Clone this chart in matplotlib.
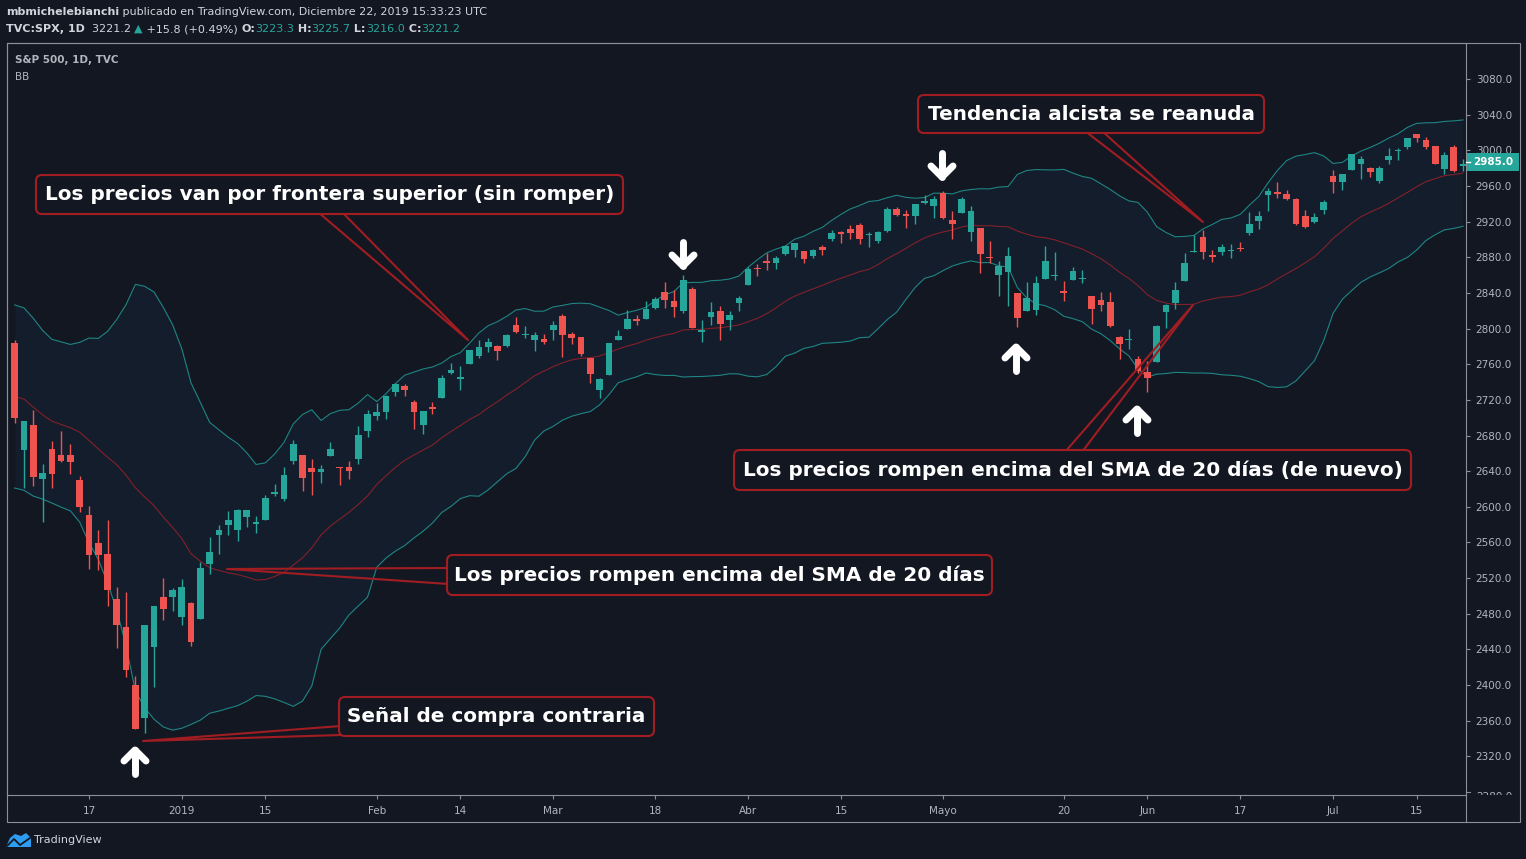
import numpy as np
import pandas as pd
import matplotlib
matplotlib.use("Agg")
import matplotlib.pyplot as plt
from matplotlib.patches import FancyBboxPatch, Rectangle, Polygon
from matplotlib.lines import Line2D
from matplotlib.transforms import IdentityTransform, Bbox

W, H = 1526, 859
BG = "#131722"
UP = "#26a69a"
DOWN = "#ef5350"
TXT = "#d1d4dc"
AX_TXT = "#b2b5be"
FRAME = "#8c8f98"
BAND = "#1f8583"
BASIS = "#84202a"
CALLOUT = "#a11d22"

# closes before the visible range, only used to warm up the 20-day bands
pre_close = [2738.31, 2755.45, 2813.89, 2806.83, 2781.01, 2726.22, 2722.18, 2701.58,
             2730.20, 2736.27, 2690.73, 2641.89, 2649.93, 2632.56, 2673.45, 2682.17,
             2743.79, 2737.80, 2760.17, 2790.37]

# S&P 500 daily candles, 4 Dec 2018 .. 22 Jul 2019
opens = [2784.0, 2663.51, 2691.26, 2630.86, 2664.44, 2658.23, 2658.70, 2629.68, 2590.75, 2559.90,
         2547.05, 2496.77, 2465.38, 2400.56, 2363.12, 2442.50, 2498.77, 2498.94, 2476.96, 2491.92,
         2474.33, 2535.61, 2568.11, 2580.00, 2573.51, 2588.11, 2580.31, 2585.10, 2614.75, 2609.28,
         2651.27, 2657.88, 2643.48, 2638.84, 2657.44, 2644.97, 2644.89, 2653.62, 2685.49, 2702.32,
         2706.49, 2728.34, 2735.05, 2717.53, 2692.36, 2712.40, 2722.61, 2750.30, 2743.50, 2760.24,
         2769.28, 2779.05, 2780.67, 2780.67, 2804.35, 2792.36, 2787.50, 2788.11, 2798.22, 2814.37,
         2794.41, 2790.27, 2766.53, 2730.79, 2747.61, 2787.34, 2799.78, 2810.38, 2810.79, 2822.61,
         2840.76, 2831.34, 2819.72, 2844.52, 2796.01, 2812.66, 2819.72, 2809.40, 2828.27, 2848.63,
         2868.24, 2876.09, 2873.99, 2884.16, 2888.46, 2886.58, 2881.37, 2891.92, 2900.86, 2908.32,
         2912.26, 2916.04, 2904.81, 2898.78, 2909.99, 2934.00, 2928.99, 2925.81, 2940.58, 2937.14,
         2952.33, 2922.16, 2929.21, 2908.89, 2913.03, 2879.61, 2859.84, 2863.10, 2840.19, 2820.12,
         2820.38, 2855.80, 2858.60, 2841.94, 2854.02, 2856.06, 2836.70, 2832.41, 2830.03, 2790.25,
         2786.94, 2766.15, 2751.53, 2762.64, 2818.09, 2828.51, 2852.87, 2885.83, 2903.27, 2882.73,
         2886.24, 2886.82, 2889.75, 2906.71, 2920.55, 2949.60, 2952.71, 2951.42, 2945.78, 2926.07,
         2919.66, 2932.94, 2971.41, 2964.66, 2978.08, 2984.25, 2979.77, 2965.52, 2989.30, 2999.62,
         3003.36, 3017.80, 3012.13, 3005.10, 2978.87, 3004.26, 2981.93]
highs = [2787.0, 2696.19, 2708.54, 2647.51, 2674.35, 2685.44, 2670.19, 2635.07, 2601.13, 2573.99,
         2585.29, 2509.63, 2504.41, 2410.34, 2467.76, 2489.10, 2520.27, 2509.24, 2519.49, 2493.14,
         2538.07, 2566.16, 2579.82, 2595.32, 2597.82, 2596.27, 2589.32, 2613.08, 2625.76, 2645.06,
         2675.47, 2657.88, 2653.19, 2647.20, 2672.38, 2644.97, 2650.93, 2690.44, 2708.95, 2716.66,
         2724.99, 2738.98, 2738.08, 2719.32, 2708.07, 2718.05, 2748.19, 2761.85, 2757.90, 2775.66,
         2787.33, 2789.88, 2781.58, 2794.20, 2813.49, 2803.12, 2795.76, 2793.73, 2808.02, 2816.88,
         2796.44, 2790.27, 2767.25, 2744.13, 2784.00, 2798.32, 2821.24, 2815.00, 2830.73, 2835.41,
         2852.42, 2843.54, 2860.31, 2846.16, 2809.79, 2829.87, 2825.56, 2819.71, 2836.03, 2869.40,
         2872.90, 2885.25, 2881.28, 2893.24, 2895.95, 2886.88, 2889.71, 2893.42, 2910.54, 2909.60,
         2916.06, 2918.00, 2908.40, 2909.51, 2936.31, 2936.83, 2933.10, 2939.88, 2949.52, 2948.22,
         2954.13, 2931.68, 2947.85, 2937.32, 2913.03, 2897.96, 2875.97, 2891.31, 2840.19, 2852.54,
         2858.68, 2892.15, 2885.48, 2853.86, 2868.88, 2865.47, 2836.70, 2841.36, 2840.51, 2792.03,
         2799.00, 2768.98, 2763.07, 2804.49, 2827.28, 2852.10, 2884.97, 2904.77, 2910.61, 2888.57,
         2895.24, 2894.45, 2897.27, 2930.79, 2931.74, 2958.06, 2964.15, 2954.92, 2946.52, 2932.59,
         2929.30, 2943.98, 2977.93, 2973.21, 2995.84, 2994.03, 2980.76, 2981.90, 3002.98, 3002.33,
         3013.92, 3017.80, 3015.02, 3005.26, 2998.28, 3006.02, 2990.71]
lows = [2693.6, 2621.53, 2623.14, 2583.23, 2621.30, 2650.26, 2637.27, 2593.84, 2530.54, 2528.71,
        2488.96, 2441.18, 2408.55, 2351.10, 2346.58, 2397.94, 2472.89, 2482.82, 2467.47, 2443.96,
        2474.33, 2524.56, 2547.56, 2568.89, 2562.02, 2577.40, 2570.41, 2585.10, 2612.68, 2606.36,
        2647.58, 2617.27, 2612.86, 2627.01, 2657.33, 2624.06, 2631.05, 2648.34, 2678.65, 2696.88,
        2698.75, 2724.03, 2724.15, 2687.26, 2681.83, 2703.79, 2722.61, 2748.63, 2731.23, 2760.24,
        2767.29, 2774.06, 2764.55, 2779.11, 2794.99, 2789.47, 2775.13, 2782.51, 2787.38, 2767.66,
        2782.97, 2768.69, 2739.09, 2722.27, 2747.61, 2786.73, 2799.78, 2803.46, 2810.79, 2821.99,
        2823.27, 2812.43, 2817.38, 2800.47, 2785.02, 2803.99, 2787.72, 2798.77, 2819.23, 2848.63,
        2858.75, 2865.17, 2867.14, 2882.99, 2880.78, 2873.33, 2879.13, 2881.99, 2898.37, 2896.48,
        2900.71, 2895.45, 2891.90, 2896.35, 2908.53, 2926.05, 2912.84, 2917.56, 2939.35, 2924.11,
        2923.36, 2900.50, 2929.21, 2898.21, 2862.60, 2873.28, 2836.40, 2825.39, 2801.43, 2820.12,
        2815.08, 2855.80, 2854.23, 2831.29, 2854.02, 2851.11, 2805.49, 2820.19, 2801.58, 2766.06,
        2776.74, 2750.52, 2728.81, 2762.64, 2800.92, 2822.45, 2852.87, 2885.51, 2878.53, 2874.68,
        2881.99, 2879.62, 2887.30, 2905.44, 2911.43, 2931.50, 2946.87, 2944.05, 2916.01, 2912.99,
        2918.57, 2929.05, 2952.22, 2955.92, 2977.96, 2967.97, 2970.09, 2963.44, 2984.62, 2988.80,
        3001.87, 3008.77, 3001.15, 2984.25, 2973.09, 2975.86, 2976.65]
closes = [2700.06, 2695.95, 2633.08, 2637.72, 2636.78, 2651.07, 2650.54, 2599.95, 2545.94, 2546.16,
          2506.96, 2467.42, 2416.62, 2351.10, 2467.70, 2488.83, 2485.74, 2506.85, 2510.03, 2447.89,
          2531.94, 2549.69, 2574.41, 2584.96, 2596.64, 2596.26, 2582.61, 2610.30, 2616.10, 2635.96,
          2670.71, 2632.90, 2638.70, 2642.33, 2664.76, 2643.85, 2640.00, 2681.05, 2704.10, 2706.53,
          2724.87, 2737.70, 2731.61, 2706.05, 2707.88, 2709.80, 2744.73, 2753.03, 2745.73, 2775.60,
          2779.76, 2784.70, 2774.88, 2792.67, 2796.11, 2793.90, 2792.38, 2784.49, 2803.69, 2792.81,
          2789.65, 2771.45, 2748.93, 2743.07, 2783.30, 2791.52, 2810.92, 2808.48, 2822.48, 2832.94,
          2832.57, 2824.23, 2854.88, 2800.71, 2798.36, 2818.46, 2805.37, 2815.44, 2834.40, 2867.19,
          2867.24, 2873.40, 2879.39, 2892.74, 2895.77, 2878.20, 2888.21, 2888.32, 2907.41, 2905.58,
          2907.06, 2900.45, 2905.03, 2907.97, 2933.68, 2927.25, 2926.17, 2939.88, 2943.03, 2945.83,
          2923.73, 2917.52, 2945.64, 2932.47, 2884.05, 2879.42, 2870.72, 2881.40, 2811.87, 2834.41,
          2850.96, 2876.32, 2859.53, 2840.23, 2864.36, 2856.27, 2822.24, 2826.06, 2802.39, 2783.02,
          2788.86, 2752.06, 2744.45, 2803.27, 2826.15, 2843.49, 2873.34, 2886.73, 2885.72, 2879.84,
          2891.64, 2886.98, 2889.67, 2917.75, 2926.46, 2954.18, 2950.46, 2945.35, 2917.38, 2913.78,
          2924.92, 2941.76, 2964.33, 2973.01, 2995.82, 2990.41, 2975.95, 2979.63, 2993.07, 2999.91,
          3013.77, 3014.30, 3004.04, 2984.42, 2995.11, 2976.61, 2985.03]

holidays = ["2018-11-22", "2018-12-05", "2018-12-25", "2019-01-01", "2019-01-21",
            "2019-02-18", "2019-04-19", "2019-05-27", "2019-07-04"]
days = pd.bdate_range("2018-11-05", "2019-07-22")
days = days[~days.isin(pd.to_datetime(holidays))]
dates = days[len(pre_close):]

tick_dates = ["2018-12-17", "2019-01-02", "2019-01-15", "2019-02-01", "2019-02-14",
              "2019-03-01", "2019-03-18", "2019-04-01", "2019-04-15", "2019-05-01",
              "2019-05-20", "2019-06-03", "2019-06-17", "2019-07-01", "2019-07-15"]
tick_text = ["17", "2019", "15", "Feb", "14", "Mar", "18", "Abr", "15", "Mayo",
             "20", "Jun", "17", "Jul", "15"]
price_ticks = list(range(2320, 3081, 40))

# Bollinger bands 20, 2
cl = pd.Series(pre_close + closes)
mid = cl.rolling(20).mean()
sd = cl.rolling(20).std(ddof=0)
basis = mid.values[len(pre_close):]
upper = (mid + 2 * sd).values[len(pre_close):]
lower = (mid - 2 * sd).values[len(pre_close):]

fig = plt.figure(figsize=(W / 100, H / 100), dpi=100, facecolor=BG)
PX = IdentityTransform()


def fy(y):
    # top-origin pixel row -> display y
    return H - y


L, R, T, B = 7, 1466, 43, 795
ax = fig.add_axes([L / W, 1 - B / H, (R - L) / W, (B - T) / H])
ax.set_facecolor(BG)

x = np.arange(len(closes))
o, h, l, c = map(np.array, (opens, highs, lows, closes))
col = np.where(c >= o, UP, DOWN)

ax.fill_between(x, upper, lower, color="#2196f3", alpha=0.05, lw=0, zorder=1)
ax.plot(x, upper, color=BAND, lw=0.8, zorder=2)
ax.plot(x, lower, color=BAND, lw=0.8, zorder=2)
ax.plot(x, basis, color=BASIS, lw=0.8, zorder=2)

ax.vlines(x, l, h, colors=col, lw=1, zorder=3)
ax.bar(x, np.maximum(np.abs(c - o), 1.1), bottom=np.minimum(o, c), width=0.72,
       color=col, lw=0, zorder=4)

ax.set_xlim(-0.83, 156.32)
ax.set_ylim(2276.7, 3120.4)
ax.set_xticks([dates.get_loc(pd.Timestamp(d)) for d in tick_dates])
ax.set_xticklabels(tick_text)
ax.yaxis.tick_right()
ax.set_yticks(price_ticks)
ax.set_yticklabels([f"{v:.1f}" for v in price_ticks])
ax.tick_params(axis="both", colors=FRAME, labelcolor=AX_TXT, labelsize=7.5,
               length=3, width=0.8)
ax.tick_params(axis="x", pad=5)
ax.tick_params(axis="y", pad=4)
for s in ax.spines.values():
    s.set_color(FRAME)
    s.set_linewidth(0.8)

# 2280 label half hidden under the time scale
t = fig.text(1476 / W, 1 - 797 / H, "2280.0", color=AX_TXT, fontsize=7.5, va="center")
t.set_clip_on(True)
t.set_clip_box(Bbox([[0, fy(795)], [W, H]]))
fig.add_artist(Line2D([1466, 1470], [fy(792), fy(792)], color=FRAME, lw=0.8, transform=PX))

# outer frame and scale separators
fig.add_artist(Rectangle((6.5, fy(822)), 1513, 822 - 42.5, fill=False, ec=FRAME, lw=0.8,
                         transform=PX))
fig.add_artist(Line2D([1466, 1466], [fy(795), fy(822)], color=FRAME, lw=0.8, transform=PX))

# last price tag
fig.add_artist(Rectangle((1467, fy(171)), 52, 18, color=UP, lw=0, transform=PX, zorder=5))
fig.add_artist(Line2D([1466, 1470], [fy(162), fy(162)], color="white", lw=1, transform=PX,
                      zorder=6))
fig.text(1493 / W, 1 - 162 / H, "2985.0", color="white", fontsize=7.5, fontweight="bold",
         ha="center", va="center", zorder=6)

renderer = fig.canvas.get_renderer()


def run_text(x0, y, parts, size=8):
    for s, color, weight in parts:
        tx = fig.text(x0 / W, 1 - y / H, s, color=color, fontsize=size, fontweight=weight,
                      ha="left", va="center")
        x0 += tx.get_window_extent(renderer).width


run_text(6, 12, [("mbmichelebianchi", TXT, "bold"),
                 (" publicado en TradingView.com, Diciembre 22, 2019 15:33:23 UTC", TXT, "normal")])
run_text(6, 29, [("TVC:SPX, 1D", TXT, "bold"), ("  3221.2 ", TXT, "normal"), ("▲", UP, "normal"),
                 (" +15.8 (+0.49%) ", TXT, "normal"), ("O:", TXT, "bold"), ("3223.3", UP, "normal"),
                 (" H:", TXT, "bold"), ("3225.7", UP, "normal"), (" L:", TXT, "bold"),
                 ("3216.0", UP, "normal"), (" C:", TXT, "bold"), ("3221.2", UP, "normal")])
fig.text(15 / W, 1 - 60 / H, "S&P 500, 1D, TVC", color=AX_TXT, fontsize=7.5,
         fontweight="bold", va="center")
fig.text(15 / W, 1 - 77 / H, "BB", color=AX_TXT, fontsize=7.5, va="center")

# TradingView logo
fig.add_artist(Polygon([(6, fy(847)), (10, fy(838)), (15, fy(834)), (21, fy(836)),
                        (26, fy(833)), (31, fy(838)), (31, fy(847))],
                       closed=True, color="#2e9cf0", lw=0, transform=PX))
fig.add_artist(Line2D([7, 14, 20, 30], [fy(846), fy(839), fy(845), fy(838)],
                      color=BG, lw=1.3, transform=PX))
fig.text(34 / W, 1 - 840 / H, "TradingView", color=TXT, fontsize=8, va="center")

# callouts: text, box (x0, y0, x1, y1), pointer (base1, tip, base2)
callouts = [
    ("Los precios van por frontera superior (sin romper)", (36, 175, 623, 214),
     [(318, 212), (468, 340), (342, 212)]),
    ("Tendencia alcista se reanuda", (918, 95, 1264, 133),
     [(1085, 131), (1203, 222), (1102, 131)]),
    ("Los precios rompen encima del SMA de 20 días (de nuevo)", (734, 450, 1411, 490),
     [(1065, 452), (1193, 305), (1082, 452)]),
    ("Los precios rompen encima del SMA de 20 días", (447, 555, 992, 595),
     [(449, 568), (227, 569), (449, 584)]),
    ("Señal de compra contraria", (339, 697, 654, 736),
     [(341, 726), (143, 741), (341, 735)]),
]

probe = fig.text(0, 0, callouts[0][0], fontsize=12, fontweight="bold")
cfs = 12 * 567 / probe.get_window_extent(renderer).width
probe.remove()

for text, (x0, y0, x1, y1), ptr in callouts:
    fig.add_artist(Line2D([p[0] for p in ptr], [fy(p[1]) for p in ptr], color=CALLOUT,
                          lw=1.5, transform=PX, zorder=7))
    fig.add_artist(FancyBboxPatch((x0, fy(y1)), x1 - x0, y1 - y0,
                                  boxstyle="round,pad=0,rounding_size=6", fc=BG, ec=CALLOUT,
                                  lw=1.5, transform=PX, zorder=8))
    fig.text((x0 + x1) / 2 / W, 1 - (y0 + y1) / 2 / H, text, color="white", fontsize=cfs,
             fontweight="bold", ha="center", va="center", zorder=9)

# white arrows: centre x, tip y, direction
arrows = [(683, 266, "down"), (942, 177, "down"), (1016, 347, "up"),
          (1137, 409, "up"), (135, 750, "up")]
for cx, tip, d in arrows:
    s = 1 if d == "down" else -1
    kw = dict(color="white", lw=5, solid_capstyle="round", solid_joinstyle="round",
              transform=PX, zorder=9)
    fig.add_artist(Line2D([cx, cx], [fy(tip - 24 * s), fy(tip)], **kw))
    fig.add_artist(Line2D([cx - 11, cx, cx + 11], [fy(tip - 11 * s), fy(tip), fy(tip - 11 * s)],
                          **kw))

fig.savefig("out.png", dpi=100, facecolor=BG)
